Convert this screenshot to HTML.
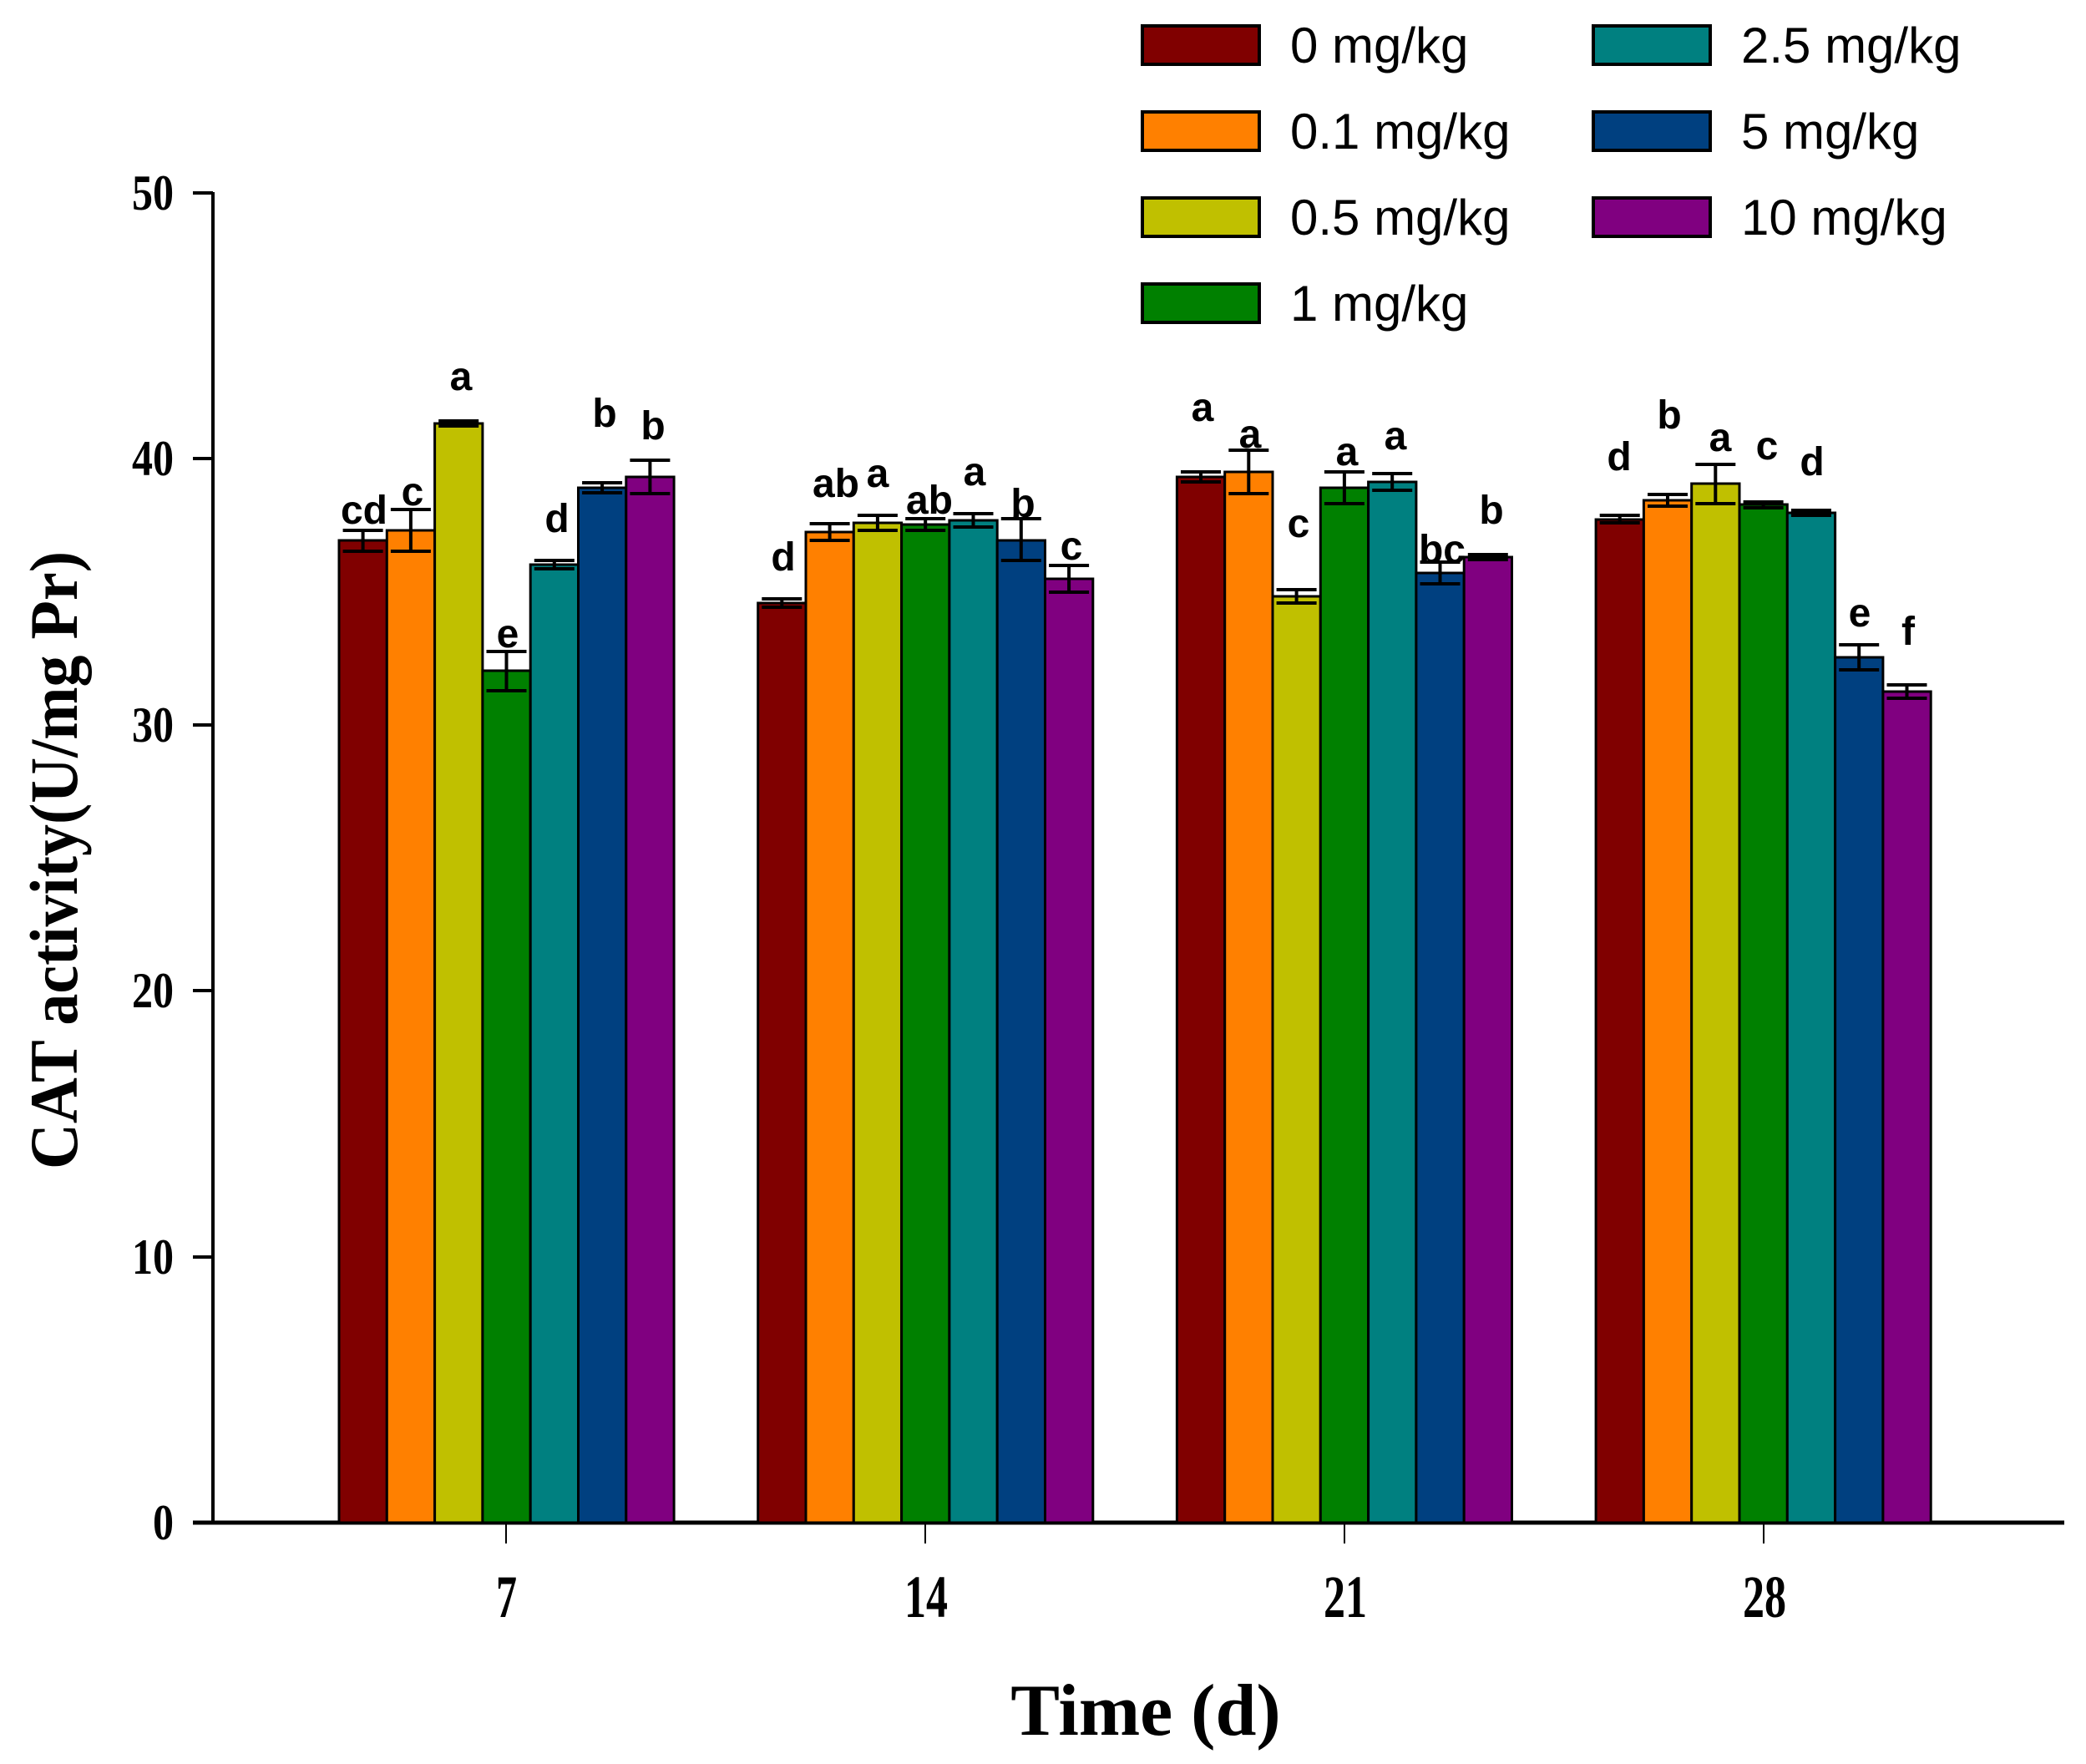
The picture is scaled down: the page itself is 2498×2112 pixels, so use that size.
<!DOCTYPE html>
<html><head><meta charset="utf-8"><style>html,body{margin:0;padding:0;background:#fff}svg{display:block}</style></head>
<body>
<svg width="2498" height="2112" viewBox="0 0 2498 2112" xmlns="http://www.w3.org/2000/svg">
<rect width="2498" height="2112" fill="#fff"/>
<!-- legend -->
<g stroke="#000" stroke-width="4">
<rect x="1368" y="31" width="140" height="46" fill="#800000"/>
<rect x="1368" y="134" width="140" height="46" fill="#ff8000"/>
<rect x="1368" y="237" width="140" height="46" fill="#c0c000"/>
<rect x="1368" y="340" width="140" height="46" fill="#008000"/>
<rect x="1908" y="31" width="140" height="46" fill="#008080"/>
<rect x="1908" y="134" width="140" height="46" fill="#004080"/>
<rect x="1908" y="237" width="140" height="46" fill="#800080"/>
</g>
<g font-family="Liberation Sans, Arial, sans-serif" font-size="60" fill="#000">
<text x="1545" y="75">0 mg/kg</text>
<text x="1545" y="178">0.1 mg/kg</text>
<text x="1545" y="281">0.5 mg/kg</text>
<text x="1545" y="384">1 mg/kg</text>
<text x="2085" y="75">2.5 mg/kg</text>
<text x="2085" y="178">5 mg/kg</text>
<text x="2085" y="281">10 mg/kg</text>
</g>
<!-- axes -->
<g stroke="#000">
<line x1="255" y1="230" x2="255" y2="1823" stroke-width="4"/>
<line x1="231" y1="1823" x2="2472" y2="1823" stroke-width="5"/>
<line x1="231" y1="231" x2="255" y2="231" stroke-width="4"/>
<line x1="231" y1="549" x2="255" y2="549" stroke-width="4"/>
<line x1="231" y1="868" x2="255" y2="868" stroke-width="4"/>
<line x1="231" y1="1186" x2="255" y2="1186" stroke-width="4"/>
<line x1="231" y1="1505" x2="255" y2="1505" stroke-width="4"/>
<line x1="606" y1="1823" x2="606" y2="1848" stroke-width="2"/>
<line x1="1108" y1="1823" x2="1108" y2="1848" stroke-width="2"/>
<line x1="1610" y1="1823" x2="1610" y2="1848" stroke-width="2"/>
<line x1="2112" y1="1823" x2="2112" y2="1848" stroke-width="2"/>
</g>
<g font-family="Liberation Serif, Times New Roman, serif" font-weight="bold" font-size="60" text-anchor="end" fill="#000">
<text x="208" y="251" textLength="50" lengthAdjust="spacingAndGlyphs">50</text>
<text x="208" y="569" textLength="50" lengthAdjust="spacingAndGlyphs">40</text>
<text x="208" y="888" textLength="50" lengthAdjust="spacingAndGlyphs">30</text>
<text x="208" y="1206" textLength="50" lengthAdjust="spacingAndGlyphs">20</text>
<text x="208" y="1525" textLength="50" lengthAdjust="spacingAndGlyphs">10</text>
<text x="208" y="1843" textLength="25" lengthAdjust="spacingAndGlyphs">0</text>
</g>
<g font-family="Liberation Serif, Times New Roman, serif" font-weight="bold" font-size="72" fill="#000">
<text x="594" y="1936" textLength="25" lengthAdjust="spacingAndGlyphs">7</text>
<text x="1083" y="1936" textLength="52" lengthAdjust="spacingAndGlyphs">14</text>
<text x="1585" y="1936" textLength="52" lengthAdjust="spacingAndGlyphs">21</text>
<text x="2087" y="1936" textLength="52" lengthAdjust="spacingAndGlyphs">28</text>
</g>
<text x="1372" y="2077" font-family="Liberation Serif, Times New Roman, serif" font-weight="bold" font-size="88" text-anchor="middle">Time (d)</text>
<text transform="translate(92,1030) rotate(-90)" x="0" y="0" font-family="Liberation Serif, Times New Roman, serif" font-weight="bold" font-size="82" text-anchor="middle" textLength="740" lengthAdjust="spacingAndGlyphs">CAT activity(U/mg Pr)</text>
<!-- bars -->
<g stroke="#000" stroke-width="3">
<rect x="406" y="647" width="57.3" height="1176" fill="#800000"/>
<rect x="463.3" y="635" width="57.3" height="1188" fill="#ff8000"/>
<rect x="520.6" y="507" width="57.3" height="1316" fill="#c0c000"/>
<rect x="577.9" y="803" width="57.3" height="1020" fill="#008000"/>
<rect x="635.2" y="676" width="57.3" height="1147" fill="#008080"/>
<rect x="692.5" y="584" width="57.3" height="1239" fill="#004080"/>
<rect x="749.8" y="571" width="57.3" height="1252" fill="#800080"/>

<rect x="907.7" y="722" width="57.3" height="1101" fill="#800000"/>
<rect x="965" y="637" width="57.3" height="1186" fill="#ff8000"/>
<rect x="1022.3" y="626" width="57.3" height="1197" fill="#c0c000"/>
<rect x="1079.6" y="628" width="57.3" height="1195" fill="#008000"/>
<rect x="1136.9" y="623" width="57.3" height="1200" fill="#008080"/>
<rect x="1194.2" y="647" width="57.3" height="1176" fill="#004080"/>
<rect x="1251.5" y="693" width="57.3" height="1130" fill="#800080"/>

<rect x="1409.4" y="571" width="57.3" height="1252" fill="#800000"/>
<rect x="1466.7" y="565" width="57.3" height="1258" fill="#ff8000"/>
<rect x="1524" y="714" width="57.3" height="1109" fill="#c0c000"/>
<rect x="1581.3" y="584" width="57.3" height="1239" fill="#008000"/>
<rect x="1638.6" y="577" width="57.3" height="1246" fill="#008080"/>
<rect x="1695.9" y="686" width="57.3" height="1137" fill="#004080"/>
<rect x="1753.2" y="667" width="57.3" height="1156" fill="#800080"/>

<rect x="1911.1" y="622" width="57.3" height="1201" fill="#800000"/>
<rect x="1968.4" y="599" width="57.3" height="1224" fill="#ff8000"/>
<rect x="2025.7" y="579" width="57.3" height="1244" fill="#c0c000"/>
<rect x="2083" y="604" width="57.3" height="1219" fill="#008000"/>
<rect x="2140.3" y="614" width="57.3" height="1209" fill="#008080"/>
<rect x="2197.6" y="787" width="57.3" height="1036" fill="#004080"/>
<rect x="2254.9" y="828" width="57.3" height="995" fill="#800080"/>
</g>
<!-- error bars -->
<g stroke="#000" stroke-width="4" fill="none">
<path d="M434.6 635v25M410.6 635h48M410.6 660h48"/>
<path d="M491.9 610v50M467.9 610h48M467.9 660h48"/>
<path d="M549.2 504v6M525.2 504h48M525.2 510h48"/>
<path d="M606.5 780v47M582.5 780h48M582.5 827h48"/>
<path d="M663.8 671v10M639.8 671h48M639.8 681h48"/>
<path d="M721.1 578v12M697.1 578h48M697.1 590h48"/>
<path d="M778.4 551v40M754.4 551h48M754.4 591h48"/>

<path d="M936.3 717v10M912.3 717h48M912.3 727h48"/>
<path d="M993.6 627v20M969.6 627h48M969.6 647h48"/>
<path d="M1050.9 617v18M1026.9 617h48M1026.9 635h48"/>
<path d="M1108.2 621v14M1084.2 621h48M1084.2 635h48"/>
<path d="M1165.5 615v16M1141.5 615h48M1141.5 631h48"/>
<path d="M1222.8 621v50M1198.8 621h48M1198.8 671h48"/>
<path d="M1280.1 677v32M1256.1 677h48M1256.1 709h48"/>

<path d="M1438 565v12M1414 565h48M1414 577h48"/>
<path d="M1495.3 539v52M1471.3 539h48M1471.3 591h48"/>
<path d="M1552.6 706v16M1528.6 706h48M1528.6 722h48"/>
<path d="M1609.9 565v38M1585.9 565h48M1585.9 603h48"/>
<path d="M1667.2 567v20M1643.2 567h48M1643.2 587h48"/>
<path d="M1724.5 673v26M1700.5 673h48M1700.5 699h48"/>
<path d="M1781.8 664v6M1757.8 664h48M1757.8 670h48"/>

<path d="M1939.7 617v9M1915.7 617h48M1915.7 626h48"/>
<path d="M1997 592v14M1973 592h48M1973 606h48"/>
<path d="M2054.3 556v47M2030.3 556h48M2030.3 603h48"/>
<path d="M2111.6 601v7M2087.6 601h48M2087.6 608h48"/>
<path d="M2168.9 611v6M2144.9 611h48M2144.9 617h48"/>
<path d="M2226.2 772v30M2202.2 772h48M2202.2 802h48"/>
<path d="M2283.5 820v16M2259.5 820h48M2259.5 836h48"/>
</g>
<!-- significance letters -->
<g font-family="Liberation Sans, Arial, sans-serif" font-weight="bold" font-size="48" text-anchor="middle" fill="#000">
<text x="436" y="627">cd</text>
<text x="494" y="605">c</text>
<text x="552" y="467">a</text>
<text x="608" y="775">e</text>
<text x="667" y="637">d</text>
<text x="724" y="511">b</text>
<text x="782" y="526">b</text>

<text x="938" y="683">d</text>
<text x="1001" y="595">ab</text>
<text x="1051" y="583">a</text>
<text x="1113" y="615">ab</text>
<text x="1167" y="581">a</text>
<text x="1225" y="619">b</text>
<text x="1283" y="670">c</text>

<text x="1440" y="504">a</text>
<text x="1497" y="536">a</text>
<text x="1555" y="643">c</text>
<text x="1613" y="557">a</text>
<text x="1671" y="538">a</text>
<text x="1727" y="674">bc</text>
<text x="1786" y="627">b</text>

<text x="1939" y="563">d</text>
<text x="1999" y="513">b</text>
<text x="2060" y="540">a</text>
<text x="2116" y="550">c</text>
<text x="2170" y="569">d</text>
<text x="2227" y="750">e</text>
<text x="2285" y="772">f</text>
</g>
</svg>
</body></html>
